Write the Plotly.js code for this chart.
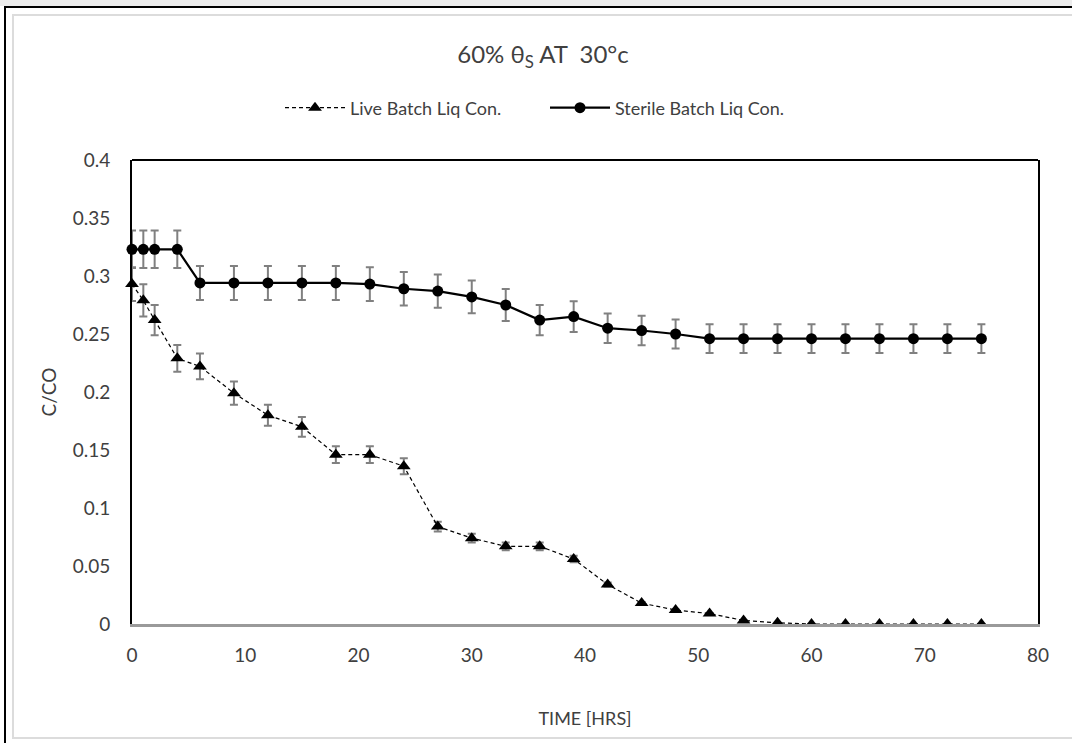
<!DOCTYPE html>
<html>
<head>
<meta charset="utf-8">
<script src="https://cdn.plot.ly/plotly-3.0.1.min.js"></script>
<style>html,body{margin:0;padding:0;background:#fff;}#chart{width:1072px;height:743px;}</style>
</head>
<body>
<div id="chart"></div>
<script>
const timeHrs = [0,1,2,4,6,9,12,15,18,21,24,27,30,33,36,39,42,45,48,51,54,57,60,63,66,69,72,75];
const liveLiq = [0.293,0.279,0.262,0.229,0.222,0.199,0.180,0.170,0.146,0.146,0.136,0.084,0.074,0.067,0.067,0.056,0.034,0.018,0.012,0.009,0.003,0.001,0,0,0,0,0,0];
const sterileLiq = [0.323,0.323,0.323,0.323,0.294,0.294,0.294,0.294,0.294,0.293,0.289,0.287,0.282,0.275,0.262,0.265,0.255,0.253,0.250,0.246,0.246,0.246,0.246,0.246,0.246,0.246,0.246,0.246];
const errorPercent = 5;
const seriesNames = ["Live Batch Liq Con.", "Sterile Batch Liq Con."];
const xTicks = [0,10,20,30,40,50,60,70,80];
const yTicks = [0,0.05,0.1,0.15,0.2,0.25,0.3,0.35,0.4];

const FONT = "Lato, 'Open Sans', sans-serif";
const errStyle = {type:'percent', value:errorPercent, color:'#808080', thickness:2, width:4};

const traces = [
  {
    x: timeHrs, y: liveLiq, name: seriesNames[0], type:'scatter', mode:'lines+markers',
    line:{color:'#000', width:1.2, dash:'4px,3px'},
    marker:{symbol:'triangle-up', size:12, color:'#000'},
    error_y: errStyle, cliponaxis:false
  },
  {
    x: timeHrs, y: sterileLiq, name: seriesNames[1], type:'scatter', mode:'lines+markers',
    line:{color:'#000', width:2.2},
    marker:{symbol:'circle', size:11, color:'#000'},
    error_y: errStyle, cliponaxis:false
  }
];

const px2x = p => (p-132)/906;
const px2y = p => (624-p)/464;

const layout = {
  width:1072, height:743,
  margin:{l:132, r:34, t:160, b:119},
  paper_bgcolor:'#fff', plot_bgcolor:'#fff',
  font:{family:FONT, color:'#404040', size:18},
  title:{text:'60% θ<sub>S</sub> AT\u00a0 30°c', x:543/1072, xref:'container', xanchor:'center', y:1-55/743, yref:'container', yanchor:'middle', font:{family:FONT, size:24, color:'#404040'}},
  showlegend:true,
  legend:{orientation:'h', x:px2x(545), xanchor:'center', y:px2y(108), yanchor:'middle', font:{family:FONT, size:18, color:'#404040'}, itemwidth:60, entrywidth:190, traceorder:'normal', bgcolor:'rgba(0,0,0,0)'},
  xaxis:{range:[0,80], tickvals:xTicks, ticks:'', showgrid:false, zeroline:false, showline:true, linecolor:'#9a9a9a', linewidth:3, mirror:false,
    tickfont:{family:FONT, size:19, color:'#404040'}, ticklabelstandoff:12,
    title:{text:'TIME [HRS]', font:{family:FONT, size:18, color:'#404040'}, standoff:48}, automargin:false, fixedrange:true},
  yaxis:{range:[0,0.4], tickvals:yTicks, ticks:'', showgrid:false, zeroline:false, showline:true, linecolor:'#000', linewidth:2, mirror:true,
    tickfont:{family:FONT, size:19, color:'#404040'}, ticklabelstandoff:16,
    title:{text:'C/CO', font:{family:FONT, size:19, color:'#404040'}, standoff:11}, automargin:false, fixedrange:true},
  shapes:[
    {type:'line', xref:'paper', yref:'paper', x0:0, x1:1, y0:1, y1:1, line:{color:'#000', width:2}},
    {type:'rect', xref:'paper', yref:'paper', x0:px2x(0), x1:px2x(1072), y0:px2y(0), y1:px2y(6), line:{width:0}, fillcolor:'#ececec', layer:'below'},
    {type:'rect', xref:'paper', yref:'paper', x0:px2x(13), x1:px2x(1080), y0:px2y(738), y1:px2y(15), line:{color:'#dcdcdc', width:2}, fillcolor:'rgba(0,0,0,0)', layer:'below'},
    {type:'line', xref:'paper', yref:'paper', x0:px2x(5), x1:px2x(5), y0:px2y(6), y1:px2y(745), line:{color:'#000', width:2}},
    {type:'line', xref:'paper', yref:'paper', x0:px2x(5), x1:px2x(1075), y0:px2y(7), y1:px2y(7), line:{color:'#000', width:2}}
  ]
};

Plotly.newPlot('chart', traces, layout, {displayModeBar:false, staticPlot:true});
</script>
</body>
</html>
